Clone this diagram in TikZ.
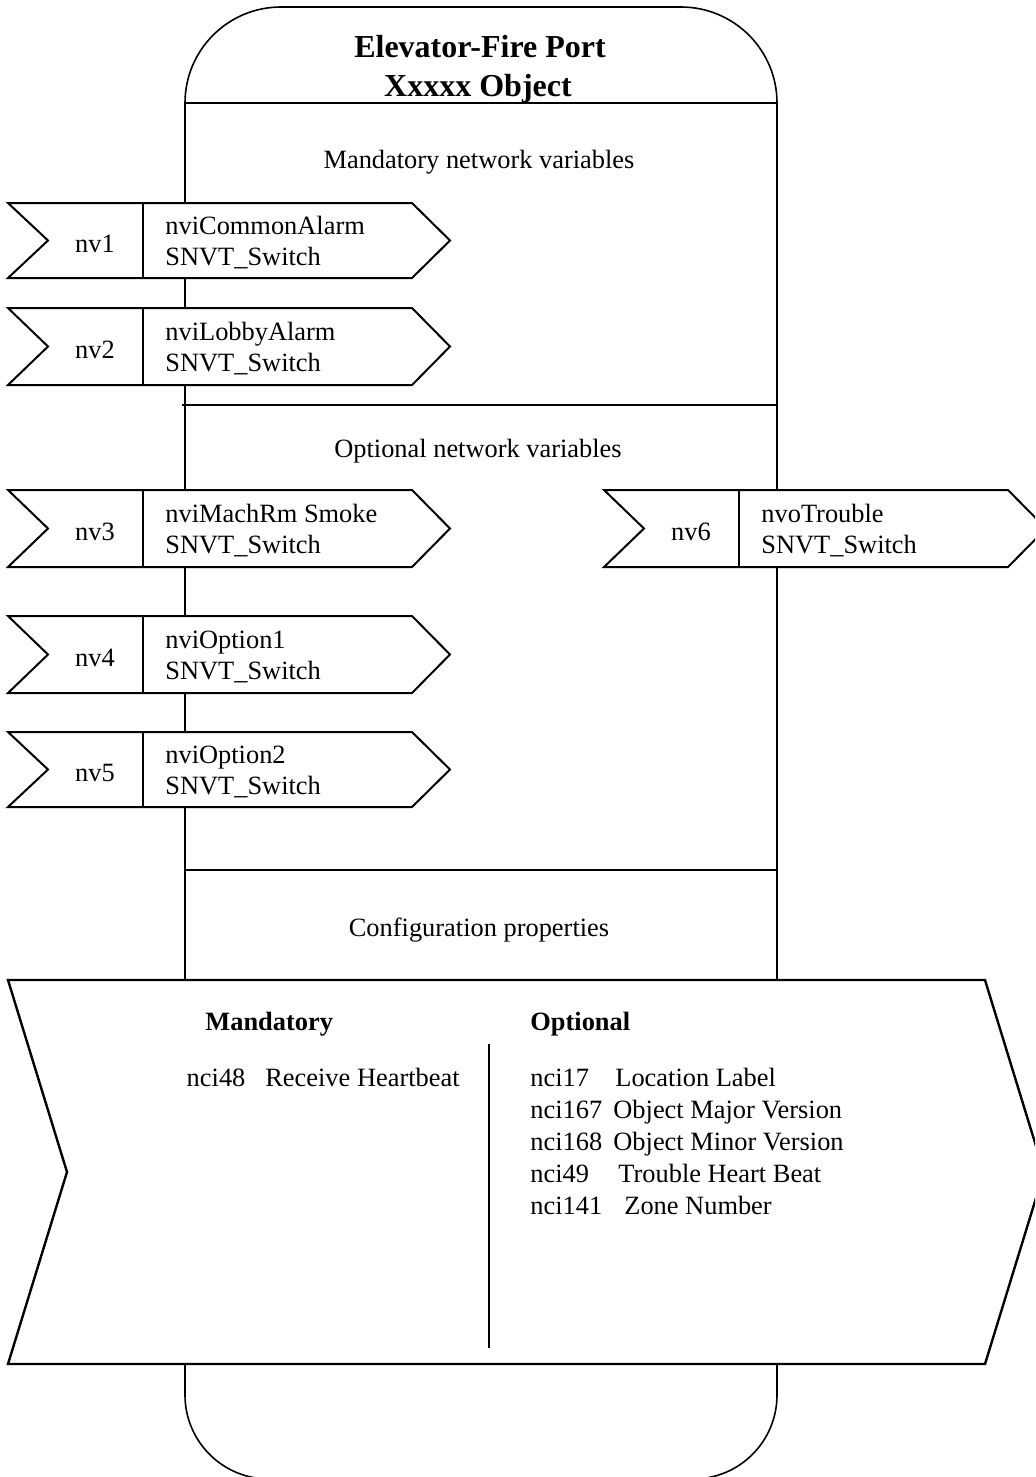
\documentclass[tikz,border=0pt]{standalone}
\usepackage{fontspec}
\setmainfont{Liberation Serif}
\begin{document}
\begin{tikzpicture}[x=0.5pt,y=-0.5pt,
  bodyline/.style={line width=0.8pt},
  boxline/.style={line width=1pt, fill=white, line join=miter},
  chevline/.style={line width=1.2pt, fill=white, line join=miter},
  txt/.style={inner sep=0pt, font=\fontsize{13.2}{15.5}\selectfont},
  btxt/.style={inner sep=0pt, font=\fontsize{13.2}{15.5}\selectfont\bfseries},
  ttl/.style={inner sep=0pt, font=\fontsize{16}{19.5}\selectfont\bfseries}]
\useasboundingbox (0,0) rectangle (1035,1477);
\clip (0,0) rectangle (1035,1477);
% main body
\draw[bodyline, rounded corners=48pt] (185,700) -- (185,7) -- (777,7) -- (777,700);
\draw[bodyline, rounded corners=42pt] (185,700) -- (185,1479) -- (777,1479) -- (777,700);
\draw[bodyline] (185,103) -- (777,103);
\draw[bodyline] (182,405) -- (777,405);
\draw[bodyline] (185,870) -- (777,870);
% title and section labels
\node[ttl, anchor=base] (t1) at (480,58) {Elevator-Fire Port};
\node[ttl, anchor=base] (t2) at (478,97) {Xxxxx Object};
\node[txt, anchor=base] (s1) at (479,169) {Mandatory network variables};
\node[txt, anchor=base] (s2) at (478,457) {Optional network variables};
\node[txt, anchor=base] (s3) at (479,936) {Configuration properties};
% nv boxes
\foreach \x/\yt/\yb/\lab/\nm/\id in {
  8/203/278/nv1/nviCommonAlarm/a,
  8/308/385/nv2/nviLobbyAlarm/b,
  8/490/567/nv3/nviMachRm Smoke/c,
  8/616/693/nv4/nviOption1/d,
  8/732/807/nv5/nviOption2/e,
  604/490/567/nv6/nvoTrouble/f}{
  \pgfmathsetmacro\ym{(\yt+\yb)/2}
  \draw[boxline] (\x,\yt) -- ({\x+404},\yt) -- ({\x+442},\ym) -- ({\x+404},\yb)
     -- (\x,\yb) -- ({\x+40},\ym) -- cycle;
  \draw[line width=0.8pt] ({\x+135},\yt) -- ({\x+135},\yb);
  \node[txt, anchor=base] (lab\id) at ({\x+87},{\ym+12}) {\lab};
  \node[txt, anchor=base west] (nm\id) at ({\x+157},{\ym-6}) {\nm};
  \node[txt, anchor=base west] (ty\id) at ({\x+157},{\ym+25}) {SNVT\_Switch};
}
% configuration chevron
\draw[chevline] (8,980) -- (985,980) -- (1044,1172) -- (985,1364) -- (8,1364) -- (67,1172) -- cycle;
\draw[bodyline] (489,1044) -- (489,1348);
\node[btxt, anchor=base west] (mh) at (205,1030) {Mandatory};
\node[btxt, anchor=base west] (oh) at (530,1030) {Optional};
\node[txt, anchor=base east] (m1) at (460,1086) {nci48\hspace{10pt}Receive Heartbeat};
\node[txt, anchor=base west] (o1) at (530,1086) {\makebox[42.5pt][l]{nci17}Location Label};
\node[txt, anchor=base west] (o2) at (530,1118) {\makebox[41.5pt][l]{nci167}Object Major Version};
\node[txt, anchor=base west] (o3) at (530,1150) {\makebox[41.5pt][l]{nci168}Object Minor Version};
\node[txt, anchor=base west] (o4) at (530,1182) {\makebox[44pt][l]{nci49}Trouble Heart Beat};
\node[txt, anchor=base west] (o5) at (530,1214) {\makebox[47pt][l]{nci141}Zone Number};
\end{tikzpicture}
\end{document}
